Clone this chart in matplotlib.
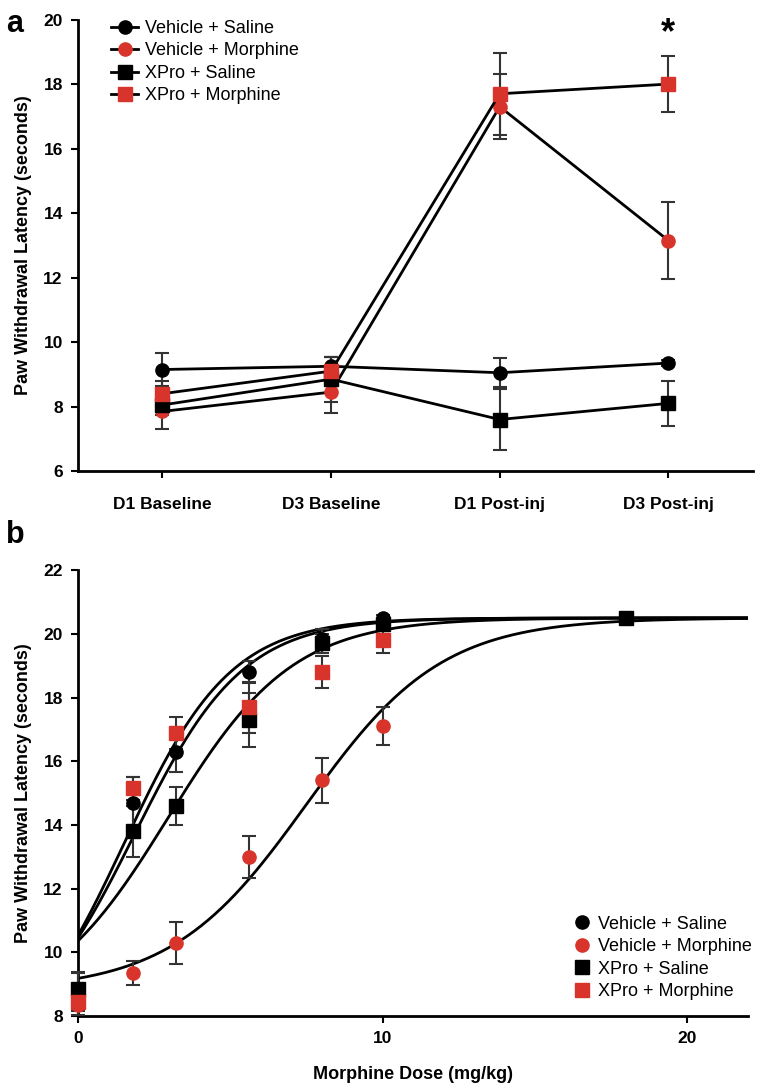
import numpy as np
import matplotlib.pyplot as plt

plt.rcParams['font.family'] = ['Liberation Sans', 'DejaVu Sans']

RED = '#d9342b'

# panel a: time course
days = ['D1 Baseline', 'D3 Baseline', 'D1 Post-inj', 'D3 Post-inj']
groups = ['Vehicle + Saline', 'Vehicle + Morphine', 'XPro + Saline', 'XPro + Morphine']
colors = ['black', RED, 'black', RED]
markers = ['o', 'o', 's', 's']

a_mean = {
    'Vehicle + Saline': [9.15, 9.25, 9.05, 9.35],
    'Vehicle + Morphine': [7.85, 8.45, 17.3, 13.15],
    'XPro + Saline': [8.05, 8.85, 7.6, 8.1],
    'XPro + Morphine': [8.4, 9.1, 17.7, 18.0],
}
a_err = {
    'Vehicle + Saline': [0.5, 0.3, 0.45, 0.1],
    'Vehicle + Morphine': [0.55, 0.65, 1.0, 1.2],
    'XPro + Saline': [0.3, 0.7, 0.95, 0.7],
    'XPro + Morphine': [0.4, 0.45, 1.27, 0.87],
}

# panel b: dose response
doses = [0, 1.8, 3.2, 5.6, 8, 10, 18]
b_mean = {
    'Vehicle + Saline': [8.8, 14.7, 16.3, 18.8, 19.85, 20.5, np.nan],
    'Vehicle + Morphine': [8.35, 9.35, 10.3, 13.0, 15.4, 17.1, np.nan],
    'XPro + Saline': [8.85, 13.8, 14.6, 17.3, 19.7, 20.3, 20.5],
    'XPro + Morphine': [8.45, 15.15, 16.9, 17.7, 18.8, 19.8, np.nan],
}
b_err = {
    'Vehicle + Saline': [0.6, 0.8, 0.65, 0.35, 0.3, 0.1, 0],
    'Vehicle + Morphine': [0.3, 0.37, 0.65, 0.65, 0.7, 0.6, 0],
    'XPro + Saline': [0.5, 0.8, 0.6, 0.85, 0.3, 0.2, 0],
    'XPro + Morphine': [0.3, 0.35, 0.5, 0.8, 0.5, 0.4, 0],
}
# logistic fit: bottom, top, slope, midpoint
fits = {
    'Vehicle + Saline': [6.3, 20.5, 0.57, 1.5],
    'Vehicle + Morphine': [8.8, 20.5, 0.45, 7.5],
    'XPro + Saline': [8.0, 20.5, 0.49, 2.97],
    'XPro + Morphine': [6.9, 20.5, 0.56, 1.85],
}

fig = plt.figure(figsize=(7.58, 10.88), dpi=100)
ax1 = fig.add_axes([0.103, 0.567, 0.89, 0.415])
ax2 = fig.add_axes([0.103, 0.066, 0.884, 0.41])

x = np.arange(len(days))
for g, c, m in zip(groups, colors, markers):
    ax1.errorbar(x, a_mean[g], yerr=a_err[g], fmt='none', ecolor='#333333',
                 elinewidth=1.5, capsize=5, capthick=1.5, zorder=2)
    ax1.plot(x, a_mean[g], color='black', lw=2, marker=m, markersize=9.5,
             markerfacecolor=c, markeredgecolor=c, label=g, zorder=3)
ax1.text(3, 19.55, '*', ha='center', va='center', fontsize=26, fontweight='bold')
ax1.set_xlim(-0.5, 3.5)
ax1.set_ylim(6, 20)
ax1.set_yticks(range(6, 21, 2))
ax1.set_xticks(x)
ax1.set_xticklabels(days)
ax1.legend(loc='upper left', bbox_to_anchor=(0.025, 1.035), frameon=False,
           fontsize=13, handlelength=1.5, handletextpad=0.4, labelspacing=0.3)

xs = np.linspace(0, 22, 300)
for g, c, m in zip(groups, colors, markers):
    b, t, k, x0 = fits[g]
    ax2.plot(xs, b + (t - b) / (1 + np.exp(-k * (xs - x0))), color='black', lw=2, zorder=2)
for g, c, m in zip(groups, colors, markers):
    ax2.errorbar(doses, b_mean[g], yerr=b_err[g], fmt='none', ecolor='#333333',
                 elinewidth=1.5, capsize=5, capthick=1.5, zorder=3, clip_on=False)
    ax2.plot(doses, b_mean[g], ls='none', marker=m, markersize=9.5,
             markerfacecolor=c, markeredgecolor=c, label=g, zorder=4, clip_on=False)
ax2.set_xlim(0, 22)
ax2.set_ylim(8, 22)
ax2.set_yticks(range(8, 23, 2))
ax2.set_xticks([0, 10, 20])
ax2.set_xlabel('Morphine Dose (mg/kg)', fontsize=13, fontweight='bold', labelpad=14)
ax2.legend(loc='lower right', bbox_to_anchor=(1.03, 0.0), frameon=False, fontsize=13,
           handlelength=0.8, handletextpad=0.5, labelspacing=0.3)

for ax in (ax1, ax2):
    for s in ('top', 'right'):
        ax.spines[s].set_visible(False)
    for s in ('left', 'bottom'):
        ax.spines[s].set_linewidth(2)
    ax.tick_params(direction='out', length=5, width=1.5, labelsize=12.5, pad=6)
    for lab in ax.get_xticklabels() + ax.get_yticklabels():
        lab.set_fontweight('bold')
    ax.set_ylabel('Paw Withdrawal Latency (seconds)', fontsize=13, fontweight='bold', labelpad=8)

ax1.tick_params(axis='x', pad=14)
fig.text(0.008, 0.978, 'a', fontsize=22, fontweight='bold', va='center')
fig.text(0.008, 0.508, 'b', fontsize=22, fontweight='bold', va='center')

fig.savefig('out.png', dpi=100)
